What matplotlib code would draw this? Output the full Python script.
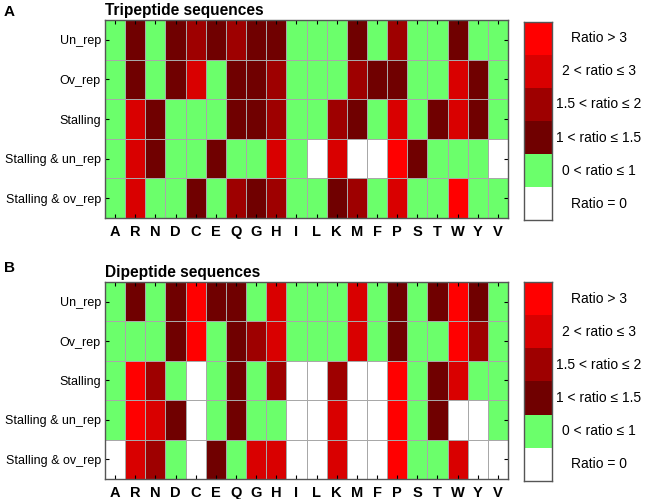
import numpy as np
import matplotlib
matplotlib.use("Agg")
import matplotlib.pyplot as plt
from matplotlib.colors import ListedColormap, BoundaryNorm

plt.rcParams['font.family'] = ['Liberation Sans', 'DejaVu Sans']

amino_acids = ["A", "R", "N", "D", "C", "E", "Q", "G", "H", "I",
               "L", "K", "M", "F", "P", "S", "T", "W", "Y", "V"]
row_labels = ["Un_rep", "Ov_rep", "Stalling", "Stalling & un_rep", "Stalling & ov_rep"]

# ratio class: 0 = ratio 0, 1 = (0,1], 2 = (1,1.5], 3 = (1.5,2], 4 = (2,3], 5 = >3
tripeptide = [
    [1, 2, 1, 2, 3, 2, 3, 2, 2, 1, 1, 1, 2, 1, 3, 1, 1, 2, 1, 1],
    [1, 2, 1, 2, 4, 1, 2, 2, 3, 1, 1, 1, 3, 2, 2, 1, 1, 4, 2, 1],
    [1, 4, 2, 1, 1, 1, 2, 2, 3, 1, 1, 3, 2, 1, 4, 1, 2, 4, 2, 1],
    [1, 4, 2, 1, 1, 2, 1, 1, 4, 1, 0, 4, 0, 0, 5, 2, 1, 1, 1, 0],
    [1, 4, 1, 1, 2, 1, 3, 2, 3, 1, 1, 2, 3, 1, 4, 1, 1, 5, 1, 1],
]
dipeptide = [
    [1, 2, 1, 2, 5, 2, 2, 1, 4, 1, 1, 1, 4, 1, 2, 1, 2, 5, 2, 1],
    [1, 1, 1, 2, 5, 1, 2, 3, 4, 1, 1, 1, 4, 1, 2, 1, 1, 5, 3, 1],
    [1, 5, 3, 1, 0, 1, 2, 1, 3, 0, 0, 3, 0, 0, 5, 1, 2, 4, 1, 1],
    [1, 5, 4, 2, 0, 1, 2, 1, 1, 0, 0, 4, 0, 0, 5, 1, 2, 0, 0, 1],
    [0, 4, 3, 1, 0, 2, 1, 4, 4, 0, 0, 4, 0, 0, 5, 1, 1, 4, 0, 0],
]
legend_labels = ["Ratio = 0", "0 < ratio \u2264 1", "1 < ratio \u2264 1.5",
                 "1.5 < ratio \u2264 2", "2 < ratio \u2264 3", "Ratio > 3"]

colors = ["#FFFFFF", "#6BFF6B", "#700000", "#9E0000", "#D90000", "#FF0000"]
cmap = ListedColormap(colors)
norm = BoundaryNorm(np.arange(-0.5, 6.5, 1), cmap.N)

fig = plt.figure(figsize=(6.55, 4.99), dpi=100)


def draw_panel(data, hm_rect, cb_rect, title, letter, letter_y):
    ax = fig.add_axes(hm_rect)
    ax.pcolormesh(np.array(data), cmap=cmap, norm=norm,
                  edgecolors="#A8A8A8", linewidth=0.6)
    ax.set_xlim(0, len(amino_acids))
    ax.set_ylim(len(row_labels), 0)
    ax.set_xticks(np.arange(len(amino_acids)) + 0.5)
    ax.set_xticklabels(amino_acids, fontsize=10.5, fontweight="bold")
    ax.set_yticks(np.arange(len(row_labels)) + 0.5)
    ax.set_yticklabels(row_labels, fontsize=9)
    ax.tick_params(axis="both", direction="in", length=3, width=0.8,
                   top=True, right=True, color="black")
    ax.tick_params(axis="x", pad=5)
    ax.tick_params(axis="y", pad=3)
    for s in ax.spines.values():
        s.set_color("#555555")
        s.set_linewidth(1.0)
    ax.text(0.0, 1.008, title, transform=ax.transAxes, fontsize=11.2,
            fontweight="bold", ha="left", va="bottom")
    fig.text(0.006, letter_y, letter, fontsize=11, fontweight="bold",
             ha="left", va="center")

    cax = fig.add_axes(cb_rect)
    cax.pcolormesh(np.arange(6).reshape(-1, 1), cmap=cmap, norm=norm)
    cax.set_xlim(0, 1)
    cax.set_ylim(0, 6)
    cax.set_xticks([])
    cax.set_yticks([])
    for s in cax.spines.values():
        s.set_color("#555555")
        s.set_linewidth(1.0)
    for i, lab in enumerate(legend_labels):
        cax.text(2.68, i + 0.5, lab, transform=cax.transData,
                 fontsize=10, ha="center", va="center", clip_on=False)


draw_panel(tripeptide, [0.1603, 0.5631, 0.6153, 0.3968],
           [0.800, 0.559, 0.0427, 0.397], "Tripeptide sequences", "A", 0.975)
draw_panel(dipeptide, [0.1603, 0.0401, 0.6153, 0.3948],
           [0.800, 0.0361, 0.0427, 0.3988], "Dipeptide sequences", "B", 0.462)

fig.savefig("out.png", dpi=100)
